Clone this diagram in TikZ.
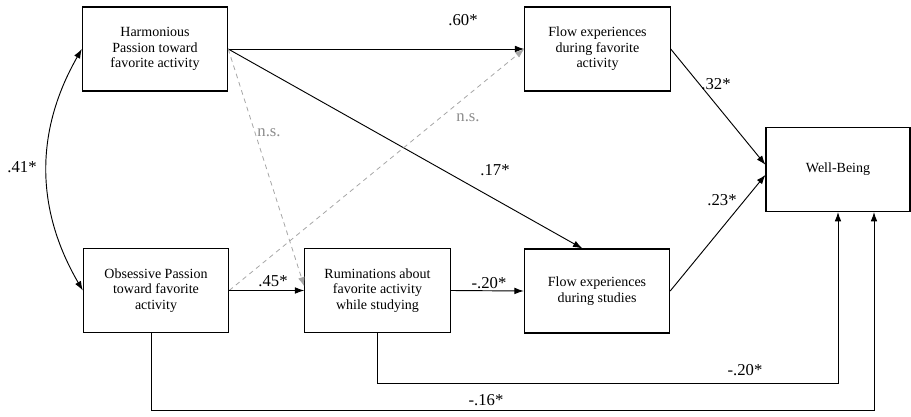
\documentclass[tikz,border=0pt]{standalone}
\usepackage{fontspec}
\setmainfont{Liberation Serif}
\usetikzlibrary{arrows.meta}

\begin{document}
\begin{tikzpicture}[x=0.75pt, y=0.75pt,
    %Arrow tips
    >={Latex[length=7pt,width=5pt]},
    box/.style={draw, line width=0.8pt, minimum width=109pt, minimum height=63pt,
        align=center, inner sep=2pt, font=\fontsize{10.5}{11.6}\selectfont},
    link/.style={->, line width=0.7pt},
    nslink/.style={->, gray!70, line width=0.6pt, dash pattern=on 3.5pt off 3pt},
    coef/.style={inner sep=0pt, font=\fontsize{12.5}{14}\selectfont},
    nscoef/.style={coef, text=gray!90},
]
    \useasboundingbox (0,0) rectangle (911,-417);

    % Variables
    \node[box] (hp)       at (155,-49)     {Harmonious\\Passion toward\\favorite activity};
    \node[box] (op)       at (156,-290.5)  {Obsessive Passion\\toward favorite\\activity};
    \node[box] (rum)      at (377.5,-290.5){Ruminations about\\favorite activity\\while studying};
    \node[box] (flowfav)  at (597.5,-49)   {Flow experiences\\during favorite\\activity};
    \node[box] (flowstud) at (597,-291)    {Flow experiences\\during studies};
    \node[box, minimum width=108pt] (wb) at (838,-169.5) {Well-Being};

    % Correlation between passions
    \draw[link, <->] (hp.west) to[bend right=30] (op.west);

    % Paths from harmonious passion
    \draw[link] (hp.east) -- (flowfav.west);
    \draw[link] (hp.east) -- ([xshift=-11pt]flowstud.north);
    \draw[nslink] (hp.east) -- ([yshift=3pt]rum.west);

    % Paths from obsessive passion
    \draw[nslink] (op.east) -- (flowfav.west);
    \draw[link] (op.east) -- (rum.west);
    \draw[link] ([xshift=-3.75pt]op.south) -- ++(0,-77) -| ([xshift=27pt]wb.south);

    % Paths from ruminations
    \draw[link] (rum.east) -- (flowstud.west);
    \draw[link] (rum.south) -- ++(0,-50) -| (wb.south);

    % Flow to well-being
    \draw[link] (flowfav.east) -- ([yshift=3.5pt]wb.west);
    \draw[link] (flowstud.east) -- ([yshift=-4pt]wb.west);

    % Coefficients
    \node[coef]   (c41)  at (22,-167)  {.41*};
    \node[coef]   (c60)  at (463,-20)  {.60*};
    \node[nscoef] (ns1)  at (269,-133) {n.s.};
    \node[nscoef] (ns2)  at (468,-118) {n.s.};
    \node[coef]   (c17)  at (495,-170) {.17*};
    \node[coef]   (c45)  at (273,-281) {.45*};
    \node[coef]   (c20a) at (489,-283) {-.20*};
    \node[coef]   (c32)  at (716,-84)  {.32*};
    \node[coef]   (c23)  at (722,-200) {.23*};
    \node[coef]   (c20b) at (745,-370) {-.20*};
    \node[coef]   (c16)  at (486,-400) {-.16*};
\end{tikzpicture}
\end{document}
